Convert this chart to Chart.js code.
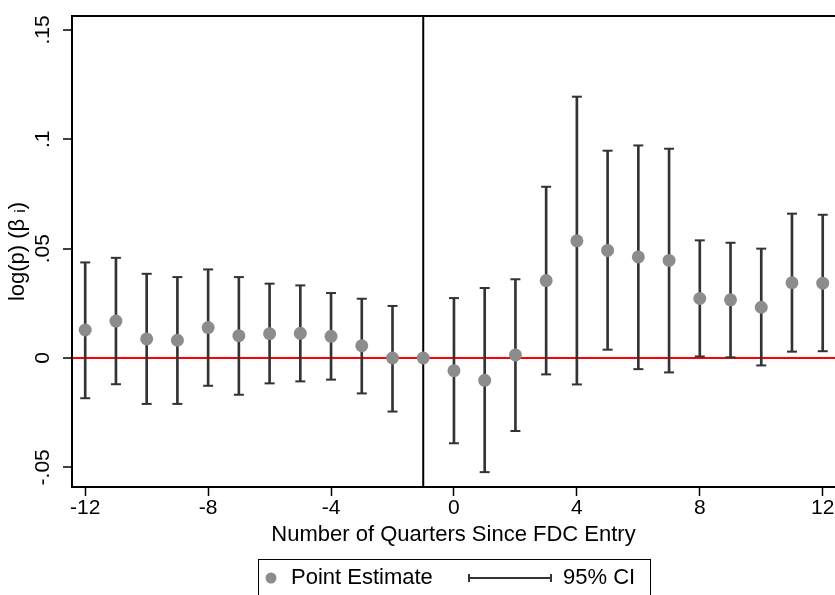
<!DOCTYPE html>
<html>
<head>
<meta charset="utf-8">
<script src="https://cdn.jsdelivr.net/npm/chart.js@4/dist/chart.umd.min.js"></script>
<style>
  html, body { margin: 0; padding: 0; background: #fff; }
  #wrap { width: 835px; height: 595px; position: relative; }
</style>
</head>
<body>
<div id="wrap"><canvas id="chart"></canvas></div>
<script>
// event-study estimates by quarter relative to FDC entry
const quarters  = [-12, -11, -10, -9, -8, -7, -6, -5, -4, -3, -2, -1, 0, 1, 2, 3, 4, 5, 6, 7, 8, 9, 10, 11, 12];
const estimates = [0.0128, 0.0169, 0.0087, 0.0081, 0.0139, 0.0102, 0.0111, 0.0113, 0.0099, 0.0056, 0.0000, 0.0000,
                   -0.0058, -0.0102, 0.0014, 0.0354, 0.0536, 0.0492, 0.0462, 0.0446, 0.0272, 0.0266, 0.0232, 0.0344, 0.0342];
const ciLow     = [-0.0184, -0.0120, -0.0210, -0.0210, -0.0127, -0.0168, -0.0116, -0.0107, -0.0099, -0.0162, -0.0245, null,
                   -0.0390, -0.0522, -0.0334, -0.0075, -0.0121, 0.0038, -0.0051, -0.0066, 0.0007, 0.0003, -0.0034, 0.0029, 0.0031];
const ciHigh    = [0.0437, 0.0458, 0.0385, 0.0370, 0.0405, 0.0370, 0.0340, 0.0332, 0.0297, 0.0271, 0.0238, null,
                   0.0274, 0.0320, 0.0360, 0.0783, 0.1195, 0.0948, 0.0972, 0.0957, 0.0538, 0.0527, 0.0500, 0.0660, 0.0655];

const xTicks = [-12, -8, -4, 0, 4, 8, 12];
const yTicks = [-0.05, 0, 0.05, 0.1, 0.15];
const yTickLabels = ["-.05", "0", ".05", ".1", ".15"];
const entryQuarter = -1;

const pointColor = "#8c8c8c";
const barColor = "#333333";

Chart.defaults.font.family = "'Liberation Sans', Arial, sans-serif";
Chart.defaults.color = "#000";

const pointData = quarters.map((q, i) => ({ x: q, y: estimates[i] }));
const ciData = [];
const capData = [];
quarters.forEach((q, i) => {
    if (ciLow[i] === null) return;
    ciData.push({ x: q, y: [ciLow[i], ciHigh[i]] });
    capData.push({ x: q, y: ciLow[i] });
    capData.push({ x: q, y: ciHigh[i] });
});

// vertical line at the entry quarter + top frame
const framePlugin = {
    id: "frame",
    beforeDatasetsDraw(chart) {
        const { ctx, chartArea, scales } = chart;
        const px = scales.x.getPixelForValue(entryQuarter);
        ctx.save();
        ctx.strokeStyle = "#000";
        ctx.lineWidth = 2;
        ctx.beginPath();
        ctx.moveTo(px, chartArea.top);
        ctx.lineTo(px, chartArea.bottom);
        ctx.moveTo(chartArea.left, chartArea.top);
        ctx.lineTo(chartArea.right, chartArea.top);
        ctx.stroke();
        ctx.restore();
    }
};

// boxed legend under the axis title
const legendBox = {
    id: "legendBox",
    afterDraw(chart) {
        const ctx = chart.ctx;
        const cy = 578;
        ctx.save();
        ctx.strokeStyle = "#000";
        ctx.lineWidth = 1;
        ctx.strokeRect(258.5, 559.5, 392, 60);

        ctx.fillStyle = pointColor;
        ctx.beginPath();
        ctx.arc(271, cy, 5.5, 0, Math.PI * 2);
        ctx.fill();

        ctx.fillStyle = "#000";
        ctx.font = "22px 'Liberation Sans', Arial, sans-serif";
        ctx.textBaseline = "middle";
        ctx.fillText(chart.data.datasets[0].label, 291, cy);

        ctx.strokeStyle = barColor;
        ctx.lineWidth = 2;
        ctx.beginPath();
        ctx.moveTo(468, cy);
        ctx.lineTo(552, cy);
        ctx.moveTo(469, cy - 4);
        ctx.lineTo(469, cy + 4);
        ctx.moveTo(551, cy - 4);
        ctx.lineTo(551, cy + 4);
        ctx.stroke();

        ctx.fillText(chart.data.datasets[2].label, 563, cy);
        ctx.restore();
    }
};

new Chart(document.getElementById("chart"), {
    type: "scatter",
    data: {
        datasets: [
            {
                label: "Point Estimate",
                type: "scatter",
                data: pointData,
                pointRadius: 6.5,
                pointHoverRadius: 6.5,
                backgroundColor: pointColor,
                borderWidth: 0,
                order: 0
            },
            {
                label: "caps",
                type: "scatter",
                data: capData,
                pointStyle: "line",
                pointRadius: 5,
                borderColor: barColor,
                borderWidth: 2,
                order: 1
            },
            {
                label: "95% CI",
                type: "bar",
                data: ciData,
                barThickness: 2,
                backgroundColor: barColor,
                borderWidth: 0,
                order: 2
            }
        ]
    },
    options: {
        responsive: true,
        maintainAspectRatio: false,
        animation: false,
        layout: { padding: { top: 16, left: 0, right: 0, bottom: 0 }, autoPadding: false },
        plugins: {
            legend: { display: false },
            tooltip: { enabled: false }
        },
        scales: {
            x: {
                type: "linear",
                min: -12.43,
                max: 12.4,
                offset: false,
                afterFit: (scale) => { scale.height = 108; },
                afterBuildTicks: (scale) => { scale.ticks = xTicks.map(v => ({ value: v })); },
                ticks: {
                    padding: 0,
                    font: { size: 21 },
                    maxRotation: 0,
                    callback: (value) => String(value)
                },
                grid: {
                    offset: false,
                    drawOnChartArea: false,
                    tickLength: 9,
                    tickColor: "#000",
                    tickWidth: 1.5
                },
                border: { display: true, color: "#000", width: 2 },
                title: {
                    display: true,
                    text: "Number of Quarters Since FDC Entry",
                    font: { size: 22 },
                    padding: { top: 0, bottom: 47 }
                }
            },
            y: {
                type: "linear",
                min: -0.059,
                max: 0.1564,
                afterFit: (scale) => { scale.width = 72; },
                afterBuildTicks: (scale) => { scale.ticks = yTicks.map(v => ({ value: v })); },
                ticks: {
                    padding: 2,
                    font: { size: 21 },
                    minRotation: 90,
                    maxRotation: 90,
                    crossAlign: "center",
                    callback: (value, index) => yTickLabels[index]
                },
                grid: {
                    drawOnChartArea: true,
                    color: (c) => (c.tick && c.tick.value === 0 ? "#ff0000" : "rgba(0,0,0,0)"),
                    lineWidth: 2,
                    tickLength: 9,
                    tickColor: "#000",
                    tickWidth: 1.5
                },
                border: { display: true, color: "#000", width: 2 },
                title: {
                    display: true,
                    text: "log(p) (β ᵢ)",
                    font: { size: 22 },
                    padding: { top: 5, bottom: 0 }
                }
            }
        }
    },
    plugins: [framePlugin, legendBox]
});
</script>
</body>
</html>
